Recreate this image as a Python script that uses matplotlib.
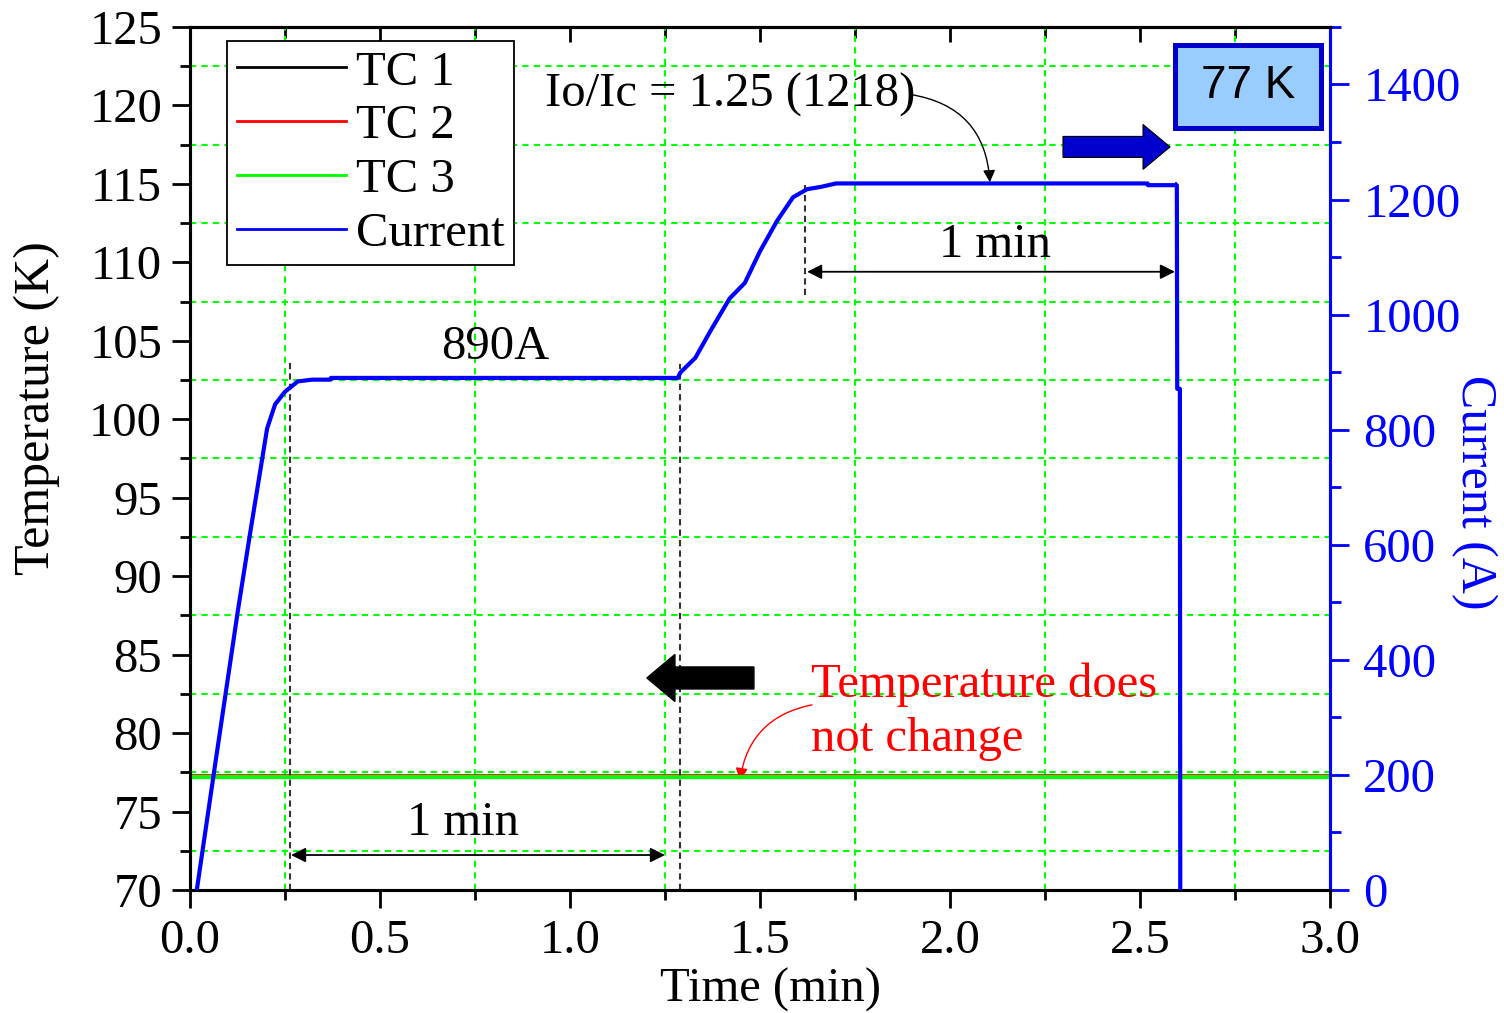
import matplotlib
matplotlib.use('Agg')
import matplotlib.pyplot as plt
from matplotlib.patches import FancyArrow, Rectangle
from matplotlib.lines import Line2D
from matplotlib.ticker import MultipleLocator, NullFormatter

plt.rcParams['font.family'] = ['Liberation Serif', 'DejaVu Serif']

# current trace (time in min, current in A)
cur_time = [0.018, 0.066, 0.126, 0.158, 0.189, 0.203, 0.224, 0.25, 0.284, 0.321, 0.37, 0.371,
            1.284, 1.29, 1.33, 1.37, 1.42, 1.46, 1.5, 1.545, 1.587, 1.624, 1.66, 1.7,
            2.52, 2.521, 2.597, 2.598, 2.605, 2.606]
cur_amp = [0, 217, 485, 619, 745, 802, 844, 866, 884, 887, 887, 890,
           890, 899, 925, 972, 1028, 1055, 1110, 1163, 1204, 1218, 1222, 1228,
           1228, 1225, 1225, 871, 871, 0]

# thermocouples stay at liquid nitrogen temperature
tc_time = [0.0, 3.0]
tc1 = [77.12, 77.12]
tc2 = [77.33, 77.33]
tc3 = [77.22, 77.22]

FS = 35

fig = plt.figure(figsize=(15.04, 10.13), dpi=100)
ax = fig.add_axes([0.1263, 0.1214, 0.758, 0.852])
ax2 = ax.twinx()

ax.plot(tc_time, tc1, color='black', lw=1.5, zorder=3)
ax.plot(tc_time, tc2, color='red', lw=2, zorder=3)
ax.plot(tc_time, tc3, color='#00ff00', lw=3, zorder=4)
ax2.plot(cur_time, cur_amp, color='blue', lw=3, zorder=5)

ax.set_xlim(0, 3.0)
ax.set_ylim(70, 125)
ax2.set_ylim(0, 1500)

ax.xaxis.set_major_locator(MultipleLocator(0.5))
ax.xaxis.set_minor_locator(MultipleLocator(0.25))
ax.yaxis.set_major_locator(MultipleLocator(5))
ax.yaxis.set_minor_locator(MultipleLocator(2.5))
ax2.yaxis.set_major_locator(MultipleLocator(200))
ax2.yaxis.set_minor_locator(MultipleLocator(100))
ax.xaxis.set_major_formatter(plt.FormatStrFormatter('%.1f'))

ax.grid(which='minor', color='#00ff00', linestyle=(0, (3, 2.5)), lw=1.5)
ax.set_axisbelow(True)

ax.tick_params(axis='both', which='major', direction='out', length=13, width=2, labelsize=FS)
ax.tick_params(axis='both', which='minor', direction='out', length=7, width=2)
ax.tick_params(axis='y', which='major', pad=7)
ax.tick_params(axis='x', which='major', pad=8)
ax2.tick_params(axis='y', which='major', direction='out', length=14, width=2, labelsize=FS,
                colors='blue', pad=10)
ax2.tick_params(axis='y', which='minor', direction='out', length=8, width=2, colors='blue')

top = ax.secondary_xaxis('top')
top.xaxis.set_major_locator(MultipleLocator(0.5))
top.xaxis.set_minor_locator(MultipleLocator(0.25))
top.xaxis.set_major_formatter(NullFormatter())
top.tick_params(which='major', direction='in', length=11, width=2)
top.tick_params(which='minor', direction='in', length=8, width=2)
top.spines['top'].set_linewidth(2.2)

for s in ax.spines.values():
    s.set_linewidth(2.2)
for s in ax2.spines.values():
    s.set_linewidth(2.2)
ax2.spines['right'].set_color('blue')

ax.set_xlabel('Time (min)', fontsize=FS)
ax.xaxis.set_label_coords(0.509, -0.09)
ax.set_ylabel('Temperature (K)', fontsize=36)
ax.yaxis.set_label_coords(-0.114, 0.558)
ax2.set_ylabel('Current (A)', fontsize=36, color='blue', rotation=270)
ax2.yaxis.set_label_coords(1.1465, 0.461)

# dashed guide lines
ax.plot([0.263, 0.263], [70, 103.8], color='#333333', lw=1.5, ls=(0, (3, 2)), zorder=6)
ax.plot([1.29, 1.29], [70, 103.5], color='#333333', lw=1.5, ls=(0, (3, 2)), zorder=6)
ax.plot([1.618, 1.618], [107.9, 114.9], color='#333333', lw=1.5, ls=(0, (3, 2)), zorder=6)
ax.plot([2.595, 2.595], [108.3, 115.1], color='#333333', lw=1.5, ls=(0, (3, 2)), zorder=6)

arrow_kw = dict(arrowstyle='<|-|>', color='black', lw=1.3, mutation_scale=22, shrinkA=0, shrinkB=0)
ax.annotate('', xy=(1.25, 72.23), xytext=(0.266, 72.23), arrowprops=arrow_kw)
ax.annotate('', xy=(2.592, 109.4), xytext=(1.624, 109.4), arrowprops=arrow_kw)
ax.text(0.718, 74.3, '1 min', fontsize=FS, ha='center', va='center')
ax.text(2.118, 111.1, '1 min', fontsize=FS, ha='center', va='center')
ax.text(0.803, 104.6, '890A', fontsize=FS, ha='center', va='center')

ax.text(0.934, 120.7, 'Io/Ic = 1.25 (1218)', fontsize=FS, ha='left', va='center')
ax.annotate('', xy=(2.105, 115.1), xytext=(1.895, 120.7),
            arrowprops=dict(arrowstyle='-|>', color='black', lw=1, mutation_scale=18,
                            shrinkA=0, shrinkB=0, connectionstyle='arc3,rad=-0.4'))

ax.text(1.634, 83.1, 'Temperature does', fontsize=FS, color='red', ha='left', va='center')
ax.text(1.634, 79.6, 'not change', fontsize=FS, color='red', ha='left', va='center')
ax.annotate('', xy=(1.447, 77.0), xytext=(1.637, 81.8),
            arrowprops=dict(arrowstyle='-|>', color='red', lw=1, mutation_scale=18,
                            shrinkA=0, shrinkB=0, connectionstyle='arc3,rad=0.35'))

# block arrows pointing to the axes
ax2.add_patch(FancyArrow(0.4947, 0.2457, -0.0939, 0, width=0.0255, head_width=0.0545,
                         head_length=0.0246, length_includes_head=True, transform=ax2.transAxes,
                         color='black', zorder=7))
ax2.add_patch(FancyArrow(0.7658, 0.861, 0.0939, 0, width=0.0243, head_width=0.052,
                         head_length=0.0237, length_includes_head=True, transform=ax2.transAxes,
                         facecolor='#0000cc', edgecolor='black', lw=0.8, zorder=7))

ax2.add_patch(Rectangle((0.864, 0.883), 0.128, 0.0962, transform=ax2.transAxes,
                        facecolor='#99ccff', edgecolor='#0000cc', lw=3.6, zorder=7))
ax2.text(0.928, 0.931, '77 K', transform=ax2.transAxes, fontsize=33, family='Liberation Sans',
         ha='center', va='center', zorder=8)

handles = [Line2D([], [], color='black', lw=2),
           Line2D([], [], color='red', lw=2),
           Line2D([], [], color='#00ff00', lw=2),
           Line2D([], [], color='blue', lw=2)]
leg = ax2.legend(handles, ['TC 1', 'TC 2', 'TC 3', 'Current'], loc='upper left',
                 bbox_to_anchor=(0.0325, 0.984), borderaxespad=0, fontsize=FS,
                 handlelength=2.25, handletextpad=0.2, labelspacing=0.2,
                 fancybox=False, framealpha=1, edgecolor='black', borderpad=0.2)
leg.get_frame().set_linewidth(1.3)
leg.set_zorder(9)

fig.savefig('out.png', dpi=100)
